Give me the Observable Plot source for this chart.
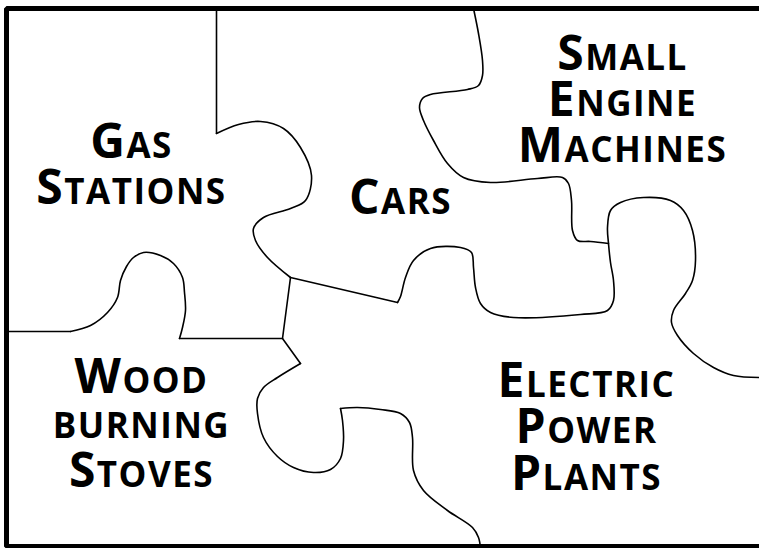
<!DOCTYPE html>
<html>
<head>
<meta charset="utf-8">
<script src="https://cdn.jsdelivr.net/npm/d3@7"></script>
<script src="https://cdn.jsdelivr.net/npm/@observablehq/plot@0.6"></script>
<style>
  html, body { margin: 0; padding: 0; background: #fff; }
  #chart svg { display: block; }
</style>
</head>
<body>
<div id="chart"></div>
<script>
// ---- Puzzle outline (picture coordinates: x to the right, y downward) ----
const frame = [[759,8],[6,8],[6,546],[759,546]];

// Gas Stations | Cars
const gasCarsStraight = [[216,8],[216,133]];
const gasCarsKnob = [[216,133],[238,124],[260,121],[283,128],[300,147],[311,175],[305,200],[290,208],[263,217],[253,228],[255,240],[267,257],[290,277]];

// Cars | Electric Power Plants
const carsElecStraight = [[290,277],[380,298],[397,302]];
const carsElecKnob = [[397,302],[400,296],[405,277],[413,260],[430,248],[460,247],[471,252],[473,267],[475,287],[480,303],[490,312],[513,317],[580,314],[607,310],[613,300],[613,280],[610,262],[608,243],[607,227],[610,210],[620,202],[643,197],[670,200],[683,210],[692,230],[695,260],[692,280],[685,293],[673,310],[671,322],[677,335],[693,353],[713,367],[733,375],[759,377]];

// Small Engine Machines | Cars
const smallCars = [[608,243],[590,241],[577,240],[572,230],[571,200],[568,183],[562,177],[537,178],[490,182],[463,177],[447,163],[433,140],[423,120],[419,107],[422,98],[430,94],[467,89],[478,85],[482,75],[482,60],[478,33],[473,8]];

// Gas Stations | Wood burning Stoves
const gasWoodStraight = [[6,331],[70,331]];
const gasWoodKnob = [[70,331],[90,325],[107,312],[117,297],[120,280],[126,266],[133,257],[143,252],[160,255],[173,263],[182,277],[184,292],[185,310],[182,327],[179,338]];
const gasWoodBase = [[179,338],[282,338],[290,277]];

// Wood burning Stoves | Electric Power Plants
const woodElecStraight = [[282,338],[300,363]];
const woodElecKnob = [[300,363],[277,377],[263,387],[257,398],[257,413],[263,437],[277,456],[293,467],[313,472],[330,469],[340,458],[343,440],[342,420],[340,408]];
const woodElecTail = [[340,408],[357,407],[380,409],[400,413],[409,422],[412,437],[413,470],[423,490],[447,510],[472,527],[478,537],[480,548]];

const straightPaths = [gasCarsStraight, carsElecStraight, gasWoodStraight, gasWoodBase, woodElecStraight];
const curvedPaths = [gasCarsKnob, carsElecKnob, smallCars, gasWoodKnob, woodElecKnob, woodElecTail];

// ---- Labels: one entry per text line ----
const labelLines = ["Gas", "Stations", "Cars", "Small", "Engine", "Machines", "Wood", "burning", "Stoves", "Electric", "Power", "Plants"];
const labelX =     [131, 131, 400, 622, 622, 622, 141, 141, 141, 586, 586, 586];
const labelY =     [157, 203, 213, 69, 115, 161, 392, 437, 486, 396, 442, 489];

const labels = labelLines.map((t, i) => ({text: t, x: labelX[i], y: labelY[i]}));

const BIG = 48, SMALL = 35;

const marks = [
  Plot.line(frame, {x: d => d[0], y: d => d[1], stroke: "#000", strokeWidth: 5, curve: "linear", strokeLinejoin: "miter"}),
  ...straightPaths.map(p => Plot.line(p, {x: d => d[0], y: d => d[1], stroke: "#000", strokeWidth: 1.6, curve: "linear"})),
  ...curvedPaths.map(p => Plot.line(p, {x: d => d[0], y: d => d[1], stroke: "#000", strokeWidth: 1.6, curve: "catmull-rom"})),
  Plot.text(labels, {x: "x", y: "y", text: "text", textAnchor: "middle", lineAnchor: "bottom",
    fontSize: BIG, fontWeight: "bold", fill: "#000", fontFamily: "'Open Sans', Lato, sans-serif"})
];

const chart = Plot.plot({
  width: 759,
  height: 548,
  margin: 0,
  style: {background: "#fff", fontFamily: "'Open Sans', sans-serif"},
  x: {domain: [0, 759], range: [0, 759], axis: null},
  y: {domain: [0, 548], range: [0, 548], axis: null},
  marks
});

// small-caps styling: capitals large, other letters as smaller capitals
d3.select(chart).selectAll("g[aria-label='text'] text").each(function() {
  const t = this.textContent;
  const runs = [];
  for (const ch of t) {
    const big = ch !== ch.toLowerCase();
    const last = runs[runs.length - 1];
    if (last && last.big === big) last.s += ch; else runs.push({big, s: ch});
  }
  this.textContent = "";
  this.setAttribute("letter-spacing", "1.5");
  for (const r of runs) {
    const ts = document.createElementNS("http://www.w3.org/2000/svg", "tspan");
    ts.setAttribute("font-size", r.big ? BIG : SMALL);
    ts.textContent = r.s.toUpperCase();
    this.appendChild(ts);
  }
});

document.getElementById("chart").appendChild(chart);
</script>
</body>
</html>
